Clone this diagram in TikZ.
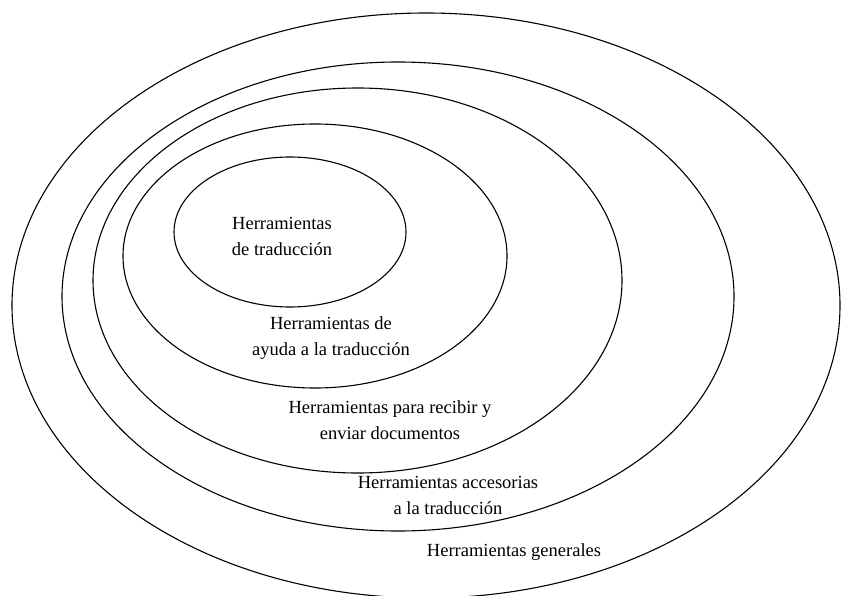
\documentclass[tikz,border=0pt]{standalone}
\usepackage{fontspec}
\setmainfont{Liberation Serif}
\begin{document}
\begin{tikzpicture}[x=1pt,y=-1pt,
  ring/.style={line width=1.1pt},
  lbl/.style={font=\fontsize{18.5}{26}\selectfont, align=center, inner sep=0pt}]
\useasboundingbox (0,0) rectangle (842,596);
\clip (0,0) rectangle (842,596);
\fill[white] (0,0) rectangle (842,596);
% rings, outermost first
\draw[ring] (426,305.5) ellipse [x radius=414, y radius=292.5];
\draw[ring] (398,296.5) ellipse [x radius=336, y radius=234.5];
\draw[ring] (357.5,280.5) ellipse [x radius=264.5, y radius=192.5];
\draw[ring] (315,256) ellipse [x radius=192, y radius=132];
\draw[ring] (290,232) ellipse [x radius=116, y radius=75];
% labels
\node[lbl] (trad) at (282,236) {Herramientas\\de traducción};
\node[lbl] (ayuda) at (331,338.5) {Herramientas de\\ayuda a la traducción};
\node[lbl] (docs) at (390,420.5) {Herramientas para recibir y\\enviar documentos};
\node[lbl] (acc) at (448,495.5) {Herramientas accesorias\\a la traducción};
\node[lbl] (gen) at (514,552) {Herramientas generales};
\end{tikzpicture}
\end{document}
